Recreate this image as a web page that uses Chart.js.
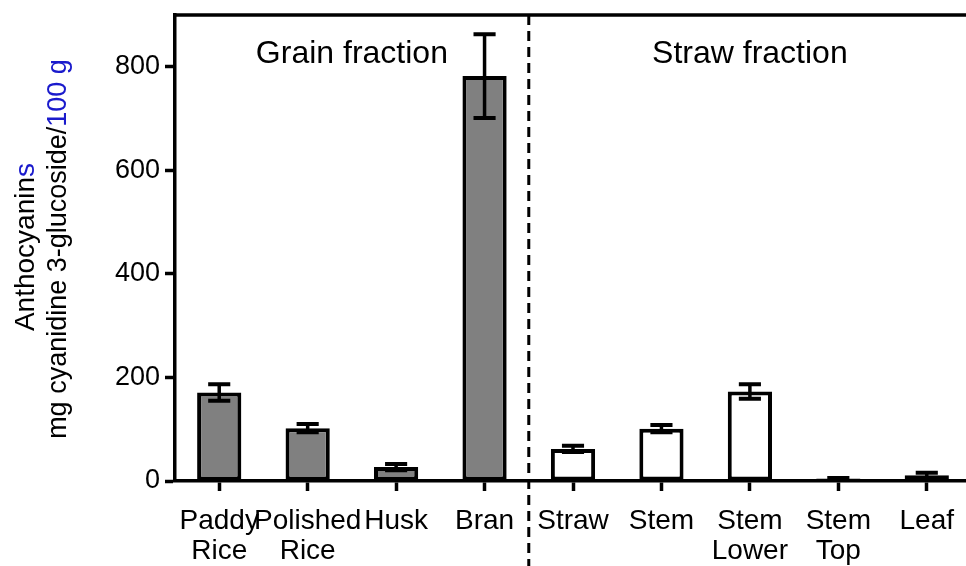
<!DOCTYPE html>
<html>
<head>
<meta charset="utf-8">
<script src="https://cdn.jsdelivr.net/npm/chart.js@4.4.1/dist/chart.umd.min.js"></script>
<style>
  html, body { margin: 0; padding: 0; background: #ffffff; overflow: hidden; }
  #wrap { width: 966px; height: 566px; overflow: hidden; }
</style>
</head>
<body>
<div id="wrap"><canvas id="c" width="971" height="566"></canvas></div>
<script>
// ---- data ----
const categories = [["Paddy", "Rice"], ["Polished", "Rice"], ["Husk"], ["Bran"], ["Straw"], ["Stem"], ["Stem", "Lower"], ["Stem", "Top"], ["Leaf"]];
const values = [171, 102, 27, 782, 62, 101, 173, 5, 11];
const errors = [16, 8, 6, 81, 6, 7, 14, 1, 5];
const groups = ["grain", "grain", "grain", "grain", "straw", "straw", "straw", "straw", "straw"];
const yTicks = [0, 200, 400, 600, 800];
const yMax = 900;
const groupLabels = ["Grain fraction", "Straw fraction"];
const yTitleLine1 = [["Anthocyanin", "#000000"], ["s", "#1a1acc"]];
const yTitleLine2 = [["mg cyanidine 3-glucoside/", "#000000"], ["100 g", "#1a1acc"]];

const FONT = "'Liberation Sans', Arial, Helvetica, sans-serif";

const overlay = {
  id: 'overlay',
  afterDatasetsDraw(chart) {
    const ctx = chart.ctx;
    const x = chart.scales.x, y = chart.scales.y;
    const meta = chart.getDatasetMeta(0);
    const area = chart.chartArea;
    ctx.save();
    // error bars
    ctx.strokeStyle = '#000';
    ctx.lineCap = 'butt';
    values.forEach((v, i) => {
      const bar = meta.data[i];
      const cx = bar.x;
      const capHalf = bar.width * 0.25;
      const yt = y.getPixelForValue(v + errors[i]);
      const yb = y.getPixelForValue(Math.max(0, v - errors[i]));
      ctx.lineWidth = 3.5;
      ctx.beginPath();
      ctx.moveTo(cx, yt); ctx.lineTo(cx, yb);
      ctx.stroke();
      ctx.lineWidth = 4;
      ctx.beginPath();
      ctx.moveTo(cx - capHalf, yt); ctx.lineTo(cx + capHalf, yt);
      ctx.moveTo(cx - capHalf, yb); ctx.lineTo(cx + capHalf, yb);
      ctx.stroke();
    });
    // top border line
    ctx.lineWidth = 3.5;
    ctx.beginPath();
    ctx.moveTo(area.left - 1.75, area.top);
    ctx.lineTo(chart.width, area.top);
    ctx.stroke();
    // dashed separator
    const sx = (x.getPixelForValue(3) + x.getPixelForValue(4)) / 2;
    ctx.lineWidth = 3;
    ctx.setLineDash([10, 6]);
    ctx.beginPath();
    ctx.moveTo(sx, area.top);
    ctx.lineTo(sx, chart.height);
    ctx.stroke();
    ctx.setLineDash([]);
    // group labels
    ctx.fillStyle = '#000';
    ctx.font = '32px ' + FONT;
    ctx.textAlign = 'center';
    ctx.textBaseline = 'middle';
    const g1 = (x.getPixelForValue(1) + x.getPixelForValue(2)) / 2;
    const g2 = x.getPixelForValue(6);
    ctx.fillText(groupLabels[0], g1, 54);
    ctx.fillText(groupLabels[1], g2, 54);
    // y-axis title (two lines, mixed colours)
    ctx.textAlign = 'left';
    ctx.textBaseline = 'alphabetic';
    const drawLine = (segs, bx, cy, size) => {
      ctx.font = size + 'px ' + FONT;
      const total = segs.reduce((s, t) => s + ctx.measureText(t[0]).width, 0);
      ctx.save();
      ctx.translate(bx, cy);
      ctx.rotate(-Math.PI / 2);
      let px = -total / 2;
      segs.forEach(([t, c]) => {
        ctx.fillStyle = c;
        ctx.fillText(t, px, 0);
        px += ctx.measureText(t).width;
      });
      ctx.restore();
    };
    drawLine(yTitleLine1, 34, 247, 28);
    drawLine(yTitleLine2, 66, 249, 27);
    ctx.restore();
  }
};

new Chart(document.getElementById('c'), {
  type: 'bar',
  data: {
    labels: categories,
    datasets: [{
      data: values,
      backgroundColor: groups.map(g => g === 'grain' ? '#808080' : '#ffffff'),
      borderColor: '#000000',
      borderWidth: 4,
      borderSkipped: false,
      categoryPercentage: 1.0,
      barPercentage: 0.5
    }]
  },
  options: {
    responsive: false,
    animation: false,
    devicePixelRatio: 1,
    layout: { padding: { top: 15, right: 0, left: 0, bottom: 0 } },
    plugins: { legend: { display: false }, tooltip: { enabled: false } },
    scales: {
      x: {
        grid: { offset: false, drawOnChartArea: false, drawTicks: true, tickLength: 10, tickWidth: 3.5, tickColor: '#000', color: '#000' },
        border: { display: true, color: '#000', width: 3.5 },
        ticks: { color: '#000', font: { family: FONT, size: 28, lineHeight: 1.08 }, padding: 15, maxRotation: 0, autoSkip: false },
        afterFit(s) { s.height = 85; s.paddingLeft = 0; s.paddingRight = 0; }
      },
      y: {
        min: 0,
        max: yMax,
        afterBuildTicks(s) { s.ticks = yTicks.map(v => ({ value: v })); },
        grid: { drawOnChartArea: false, drawTicks: true, tickLength: 10, tickWidth: 3.5, tickColor: '#000', color: '#000' },
        border: { display: true, color: '#000', width: 3.5 },
        ticks: { color: '#000', font: { family: FONT, size: 27 }, padding: 5 },
        afterFit(s) { s.width = 175; s.paddingTop = 0; s.paddingBottom = 0; }
      }
    }
  },
  plugins: [overlay]
});
</script>
</body>
</html>
